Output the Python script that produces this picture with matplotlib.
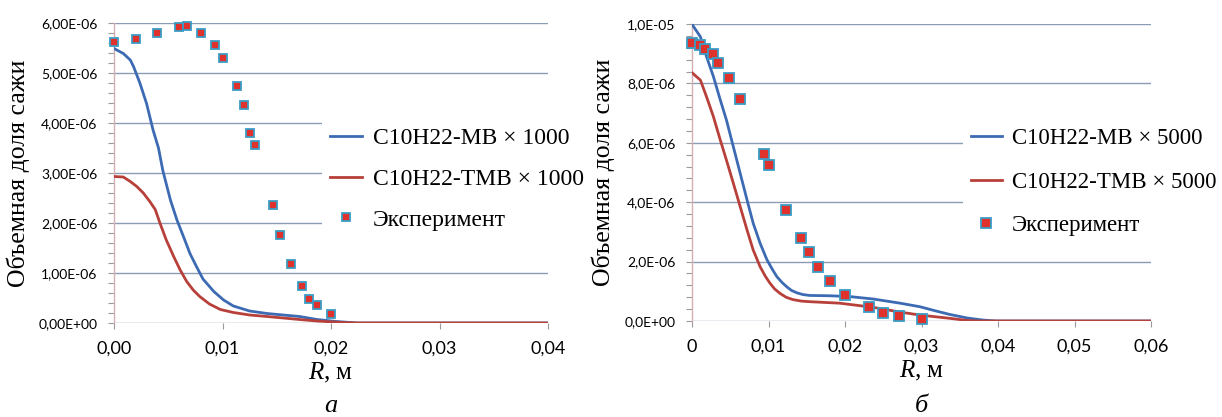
import numpy as np
import matplotlib
matplotlib.use("Agg")
import matplotlib.pyplot as plt
from matplotlib.ticker import FixedLocator, MultipleLocator

plt.rcParams['font.family'] = ['Liberation Serif', 'DejaVu Serif']
plt.rcParams['mathtext.fontset'] = 'custom'
plt.rcParams['mathtext.it'] = 'Liberation Serif:italic'
plt.rcParams['mathtext.rm'] = 'Liberation Serif'

SCALE = 1e-6  # values below are in units of 1E-06

# --- panel a (x1000) ---
mb_a_r = [0, 0.00086, 0.0015, 0.0018, 0.0024, 0.0030, 0.0036, 0.0041, 0.0045, 0.0052,
          0.0058, 0.0064, 0.0070, 0.0076, 0.0082, 0.0092, 0.0101, 0.0110, 0.0125, 0.0141,
          0.0156, 0.0171, 0.0187, 0.0205, 0.0224, 0.03, 0.04]
mb_a_v = [5.49, 5.39, 5.26, 5.13, 4.79, 4.39, 3.86, 3.50, 3.05, 2.46,
          2.06, 1.73, 1.39, 1.13, 0.88, 0.63, 0.46, 0.34, 0.24, 0.19,
          0.16, 0.13, 0.07, 0.03, 0.0, 0.0, 0.0]
tmb_a_r = [0, 0.00086, 0.0015, 0.0021, 0.0027, 0.0033, 0.0038, 0.0042, 0.0048, 0.0055,
           0.0061, 0.0067, 0.0073, 0.0079, 0.0088, 0.0098, 0.0110, 0.0125, 0.0141, 0.0171,
           0.0187, 0.0210, 0.0225, 0.03, 0.04]
tmb_a_v = [2.93, 2.92, 2.83, 2.73, 2.60, 2.43, 2.27, 2.02, 1.67, 1.33,
           1.06, 0.83, 0.66, 0.53, 0.38, 0.27, 0.21, 0.16, 0.13, 0.07,
           0.04, 0.01, 0.0, 0.0, 0.0]
exp_a_r = [0, 0.0020, 0.0040, 0.0060, 0.0067, 0.0080, 0.0093, 0.0100, 0.0113, 0.0120,
           0.0125, 0.0130, 0.0147, 0.0153, 0.0163, 0.0173, 0.0180, 0.0187, 0.0200]
exp_a_v = [5.63, 5.69, 5.81, 5.92, 5.95, 5.81, 5.56, 5.31, 4.74, 4.37,
           3.81, 3.56, 2.37, 1.77, 1.18, 0.74, 0.49, 0.37, 0.18]

# --- panel b (x5000) ---
mb_b_r = [0, 0.0011, 0.0019, 0.0028, 0.0037, 0.0045, 0.0054, 0.0063, 0.0072, 0.0080,
          0.0089, 0.0098, 0.0105, 0.0111, 0.0118, 0.0124, 0.0130, 0.0137, 0.0145, 0.0154,
          0.0180, 0.0207, 0.0237, 0.0272, 0.0298, 0.0320, 0.0337, 0.0360, 0.0381, 0.0398, 0.06]
mb_b_v = [9.99, 9.57, 8.90, 8.23, 7.44, 6.77, 5.87, 4.97, 4.07, 3.29,
          2.62, 2.06, 1.74, 1.49, 1.29, 1.15, 1.03, 0.95, 0.89, 0.86,
          0.85, 0.82, 0.74, 0.60, 0.48, 0.33, 0.22, 0.10, 0.03, 0.0, 0.0]
tmb_b_r = [0, 0.0011, 0.0019, 0.0028, 0.0037, 0.0045, 0.0054, 0.0063, 0.0072, 0.0080,
           0.0089, 0.0096, 0.0102, 0.0108, 0.0115, 0.0123, 0.0132, 0.0143, 0.0154, 0.0193,
           0.0237, 0.0272, 0.0298, 0.0337, 0.0359, 0.0375, 0.06]
tmb_b_v = [8.36, 8.11, 7.55, 6.88, 6.09, 5.42, 4.64, 3.85, 3.06, 2.39,
           1.83, 1.50, 1.27, 1.08, 0.93, 0.80, 0.72, 0.67, 0.65, 0.60,
           0.46, 0.30, 0.20, 0.09, 0.02, 0.0, 0.0]
exp_b_r = [0, 0.0011, 0.0017, 0.0027, 0.0034, 0.0049, 0.0063, 0.0094, 0.0100, 0.0123,
           0.0142, 0.0153, 0.0165, 0.0180, 0.0200, 0.0231, 0.0250, 0.0271, 0.0301]
exp_b_v = [9.35, 9.29, 9.15, 8.99, 8.69, 8.18, 7.47, 5.61, 5.26, 3.74,
           2.78, 2.31, 1.83, 1.36, 0.89, 0.47, 0.26, 0.18, 0.06]

# ticks and labels
xt_a = [0, 0.01, 0.02, 0.03, 0.04]
xl_a = ['0,00', '0,01', '0,02', '0,03', '0,04']
yt_a = [0, 1, 2, 3, 4, 5, 6]
yl_a = ['0,00E+00', '1,00E-06', '2,00E-06', '3,00E-06', '4,00E-06', '5,00E-06', '6,00E-06']
xt_b = [0, 0.01, 0.02, 0.03, 0.04, 0.05, 0.06]
xl_b = ['0', '0,01', '0,02', '0,03', '0,04', '0,05', '0,06']
yt_b = [0, 2, 4, 6, 8, 10]
yl_b = ['0,0E+00', '2,0E-06', '4,0E-06', '6,0E-06', '8,0E-06', '1,0E-05']

labels_a = ['C10H22-MB × 1000', 'C10H22-TMB × 1000', 'Эксперимент']
labels_b = ['C10H22-MB × 5000', 'C10H22-TMB × 5000', 'Эксперимент']

BLUE = '#3d6bb3'
RED = '#b8403a'
MFACE = '#e0322c'
MEDGE = '#3a9cc4'
GRID = '#8a9cb5'
TICKFONT = 'Lato'

W, H = 1222, 417
fig = plt.figure(figsize=(W / 100, H / 100), dpi=100)


def make_panel(rect, xt, xl, yt, yl, ymax, minor, xmax,
               mb, tmb, exp, labels, msize, ylab_x, leg_anchor, leg_fs, leg_sp,
               letter, letter_x):
    ax = fig.add_axes(rect)
    ax.plot(np.array(mb[0]), np.array(mb[1]) * SCALE, color=BLUE, lw=2.0, label=labels[0], zorder=3)
    ax.plot(np.array(tmb[0]), np.array(tmb[1]) * SCALE, color=RED, lw=2.0, label=labels[1], zorder=3)
    ax.plot(np.array(exp[0]), np.array(exp[1]) * SCALE, ls='none', marker='s', ms=msize,
            mfc=MFACE, mec=MEDGE, mew=1.3, label=labels[2], zorder=4, clip_on=False)

    ax.set_xlim(0, xmax)
    ax.set_ylim(0, ymax * SCALE)
    ax.xaxis.set_major_locator(FixedLocator(xt))
    ax.set_xticklabels(xl, fontfamily=TICKFONT, fontsize=13)
    ax.yaxis.set_major_locator(FixedLocator(np.array(yt) * SCALE))
    ax.set_yticklabels(yl, fontfamily=TICKFONT, fontsize=10)
    ax.yaxis.set_minor_locator(MultipleLocator(minor * SCALE))

    for s in ['top', 'right', 'bottom']:
        ax.spines[s].set_visible(False)
    ax.spines['left'].set_color('#d6aeb6')
    ax.spines['left'].set_linewidth(1.0)
    ax.grid(axis='y', color=GRID, lw=1.0)
    ax.set_axisbelow(True)
    ax.tick_params(axis='y', which='both', color='#9a9a9a', length=4, width=0.8, pad=8)
    ax.tick_params(axis='x', color='#9a9a9a', length=4, width=0.8, pad=9)

    ax.set_ylabel('Объемная доля сажи', fontsize=18.5)
    ax.yaxis.set_label_coords(ylab_x, 0.5)
    ax.yaxis.label.set_va('center')
    ax.set_xlabel('$R$, м', fontsize=18)
    ax.xaxis.set_label_coords(0.5, -0.167)
    ax.xaxis.label.set_va('center')

    leg = ax.legend(loc='center left', bbox_to_anchor=leg_anchor, fontsize=leg_fs,
                    frameon=True, facecolor='white', edgecolor='none', framealpha=1,
                    borderaxespad=0, borderpad=0.35, handlelength=1.35,
                    handletextpad=0.45, labelspacing=leg_sp, fancybox=False)
    leg.set_zorder(5)

    fig.text(letter_x, 1 - 412 / H, letter, fontsize=19, fontstyle='italic',
             ha='center', va='baseline')
    return ax


make_panel([114 / W, 1 - 323 / H, 434 / W, 300 / H], xt_a, xl_a, yt_a, yl_a, 6, 0.2, 0.04,
           (mb_a_r, mb_a_v), (tmb_a_r, tmb_a_v), (exp_a_r, exp_a_v), labels_a, 6.0,
           -0.221, (0.479, 0.48), 17, 0.82, 'а', 331 / W)
make_panel([692 / W, 1 - 321 / H, 459 / W, 297 / H], xt_b, xl_b, yt_b, yl_b, 10, 0.4, 0.06,
           (mb_b_r, mb_b_v), (tmb_b_r, tmb_b_v), (exp_b_r, exp_b_v), labels_b, 7.5,
           -0.194, (0.59, 0.468), 16.5, 1.0, 'б', 921 / W)

fig.savefig('out.png', dpi=100)
